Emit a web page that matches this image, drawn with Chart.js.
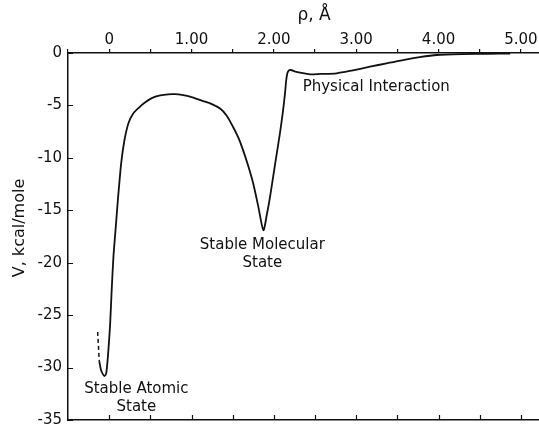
<!DOCTYPE html>
<html>
<head>
<meta charset="utf-8">
<script src="https://cdn.jsdelivr.net/npm/chart.js@4.4.0/dist/chart.umd.min.js"></script>
<style>
html, body { margin: 0; padding: 0; background: #fff; }
</style>
</head>
<body>
<canvas id="myChart" width="539" height="424"></canvas>
<script>
// separation rho (angstrom) and potential V (kcal/mole)
var rho = [-0.12, -0.10, -0.075, -0.055, -0.035, -0.016, 0.0, 0.012, 0.03, 0.052, 0.08, 0.106, 0.146, 0.186, 0.234, 0.29, 0.356, 0.43, 0.518, 0.62, 0.716, 0.80, 0.882, 1.0, 1.125, 1.24, 1.347, 1.43, 1.505, 1.57, 1.626, 1.69, 1.748, 1.81, 1.873, 1.915, 1.954, 2.015, 2.075, 2.11, 2.136, 2.15, 2.164, 2.18, 2.205, 2.26, 2.318, 2.44, 2.56, 2.763, 2.96, 3.167, 3.37, 3.568, 3.77, 3.977, 4.296, 4.6, 4.87];
var energy = [-29.4, -30.2, -30.65, -30.8, -30.5, -29.0, -27.3, -25.8, -22.7, -19.4, -16.6, -14.0, -10.5, -8.3, -6.7, -5.8, -5.25, -4.75, -4.3, -4.05, -3.94, -3.93, -4.0, -4.2, -4.55, -4.85, -5.3, -6.0, -7.06, -8.1, -9.26, -10.8, -12.4, -14.6, -16.9, -15.4, -13.7, -10.6, -7.6, -5.6, -3.8, -2.6, -1.94, -1.68, -1.62, -1.78, -1.88, -2.03, -2.0, -1.94, -1.65, -1.31, -0.98, -0.67, -0.4, -0.19, -0.1, -0.07, -0.05];

// dashed extension of the atomic well
var dashRho = [-0.14, -0.13, -0.12];
var dashEnergy = [-26.6, -28.0, -29.4];

var yTicks = [0, -5, -10, -15, -20, -25, -30, -35];
var xTicks = [-0.5, 0, 0.5, 1, 1.5, 2, 2.5, 3, 3.5, 4, 4.5, 5];
var xTickLabels = ['0', '1.00', '2.00', '3.00', '4.00', '5.00'];

// text notes placed in data units
var notes = [
	{ lines: ['Stable Atomic', 'State'], x: 0.33, y: -32.1 },
	{ lines: ['Stable Molecular', 'State'], x: 1.86, y: -18.3 },
	{ lines: ['Physical Interaction'], x: 2.35, y: -3.25, left: true }
];

var fontFamily = '"DejaVu Sans", sans-serif';

function toPoints(xs, ys) {
	var pts = [];
	for (var i = 0; i < xs.length; i++) {
		pts.push({ x: xs[i], y: ys[i] });
	}
	return pts;
}

function fixedTicks(values) {
	return function(scale) {
		scale.ticks = values.map(function(v) { return { value: v }; });
	};
}

// inward ticks, titles and notes
var decorations = {
	id: 'decorations',
	afterDraw: function(chart) {
		var ctx = chart.ctx;
		var xs = chart.scales.x;
		var xb = chart.scales.x2;
		var ys = chart.scales.y;
		var area = chart.chartArea;
		ctx.save();
		ctx.strokeStyle = '#111';
		ctx.lineWidth = 1.2;
		ctx.beginPath();
		ys.ticks.forEach(function(t) {
			var py = Math.round(ys.getPixelForValue(t.value)) + 0.5;
			ctx.moveTo(area.left, py);
			ctx.lineTo(area.left + 5, py);
		});
		xb.ticks.forEach(function(t) {
			var px = Math.round(xb.getPixelForValue(t.value)) + 0.5;
			if (px <= area.left + 1) return;
			ctx.moveTo(px, area.bottom);
			ctx.lineTo(px, area.bottom - 5);
		});
		ctx.stroke();

		ctx.fillStyle = '#111';
		// axis titles
		ctx.font = '17px ' + fontFamily;
		ctx.textAlign = 'center';
		ctx.textBaseline = 'middle';
		ctx.fillText('\u03c1, \u00c5', 314, 16);
		ctx.save();
		ctx.translate(20, 228);
		ctx.rotate(-Math.PI / 2);
		ctx.font = '16px ' + fontFamily;
		ctx.fillText('V, kcal/mole', 0, 0);
		ctx.restore();

		// notes
		ctx.font = '15px ' + fontFamily;
		notes.forEach(function(n) {
			var px = xs.getPixelForValue(n.x);
			var py = ys.getPixelForValue(n.y);
			ctx.textAlign = n.left ? 'left' : 'center';
			n.lines.forEach(function(line, i) {
				ctx.fillText(line, px, py + i * 18);
			});
		});
		ctx.restore();
	}
};

var ctx = document.getElementById('myChart');

var myChart = new Chart(ctx, {
	type: 'line',
	data: {
		datasets: [
			{
				data: toPoints(rho, energy),
				borderColor: '#111',
				borderWidth: 1.8,
				pointRadius: 0,
				tension: 0.25,
				fill: false,
				xAxisID: 'x',
				yAxisID: 'y'
			},
			{
				data: toPoints(dashRho, dashEnergy),
				borderColor: '#111',
				borderWidth: 1.5,
				borderDash: [4, 3],
				pointRadius: 0,
				tension: 0,
				fill: false,
				xAxisID: 'x',
				yAxisID: 'y'
			}
		]
	},
	options: {
		responsive: false,
		animation: false,
		devicePixelRatio: 1,
		layout: { padding: 0 },
		plugins: {
			legend: { display: false },
			tooltip: { enabled: false }
		},
		scales: {
			x: {
				type: 'linear',
				position: 'top',
				min: -0.5,
				max: 5.22,
				border: { display: true, color: '#111', width: 1.5 },
				grid: { drawOnChartArea: false, drawTicks: true, tickLength: 4, color: '#111', lineWidth: 1.2 },
				afterBuildTicks: fixedTicks(xTicks),
				ticks: {
					padding: 0,
					maxRotation: 0,
					autoSkip: false,
					color: '#111',
					font: { family: fontFamily, size: 15 },
					callback: function(v) {
						if (Math.abs(v - Math.round(v)) > 1e-6 || v < 0) return '';
						return xTickLabels[Math.round(v)];
					}
				},
				afterFit: function(scale) {
					scale.height = 53;
					scale.paddingLeft = 0;
					scale.paddingRight = 0;
				}
			},
			x2: {
				type: 'linear',
				position: 'bottom',
				min: -0.5,
				max: 5.22,
				border: { display: true, color: '#111', width: 1.5 },
				grid: { drawOnChartArea: false, drawTicks: false },
				afterBuildTicks: fixedTicks(xTicks),
				ticks: { display: false },
				afterFit: function(scale) {
					scale.height = 4;
					scale.paddingLeft = 0;
					scale.paddingRight = 0;
				}
			},
			y: {
				type: 'linear',
				position: 'left',
				min: -35,
				max: 0,
				border: { display: true, color: '#111', width: 1.5 },
				grid: { drawOnChartArea: false, drawTicks: false },
				afterBuildTicks: fixedTicks(yTicks),
				ticks: {
					padding: 6,
					color: '#111',
					font: { family: fontFamily, size: 15 },
					callback: function(v) { return String(v); }
				},
				afterFit: function(scale) {
					scale.width = 68;
					scale.paddingTop = 0;
					scale.paddingBottom = 0;
				}
			}
		}
	},
	plugins: [decorations]
});
</script>
</body>
</html>
